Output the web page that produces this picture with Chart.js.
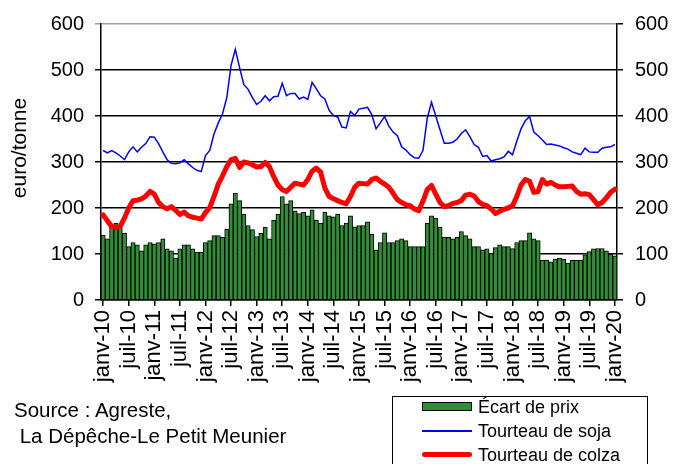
<!DOCTYPE html>
<html>
<head>
<meta charset="utf-8">
<script src="https://cdn.jsdelivr.net/npm/chart.js@4.4.1/dist/chart.umd.min.js"></script>
<style>
html, body { margin: 0; padding: 0; background: #fff; }
#wrap { position: relative; width: 673px; height: 464px; overflow: hidden; font-family: 'Liberation Sans', Arial, sans-serif; color: #000; }
#chart { position: absolute; left: 0; top: 0; }
.src { position: absolute; left: 14px; top: 397px; font-size: 20.5px; line-height: 26px; white-space: pre; }
.leg { position: absolute; left: 392px; top: 396px; width: 256px; height: 90px; border: 1.5px solid #000; box-sizing: border-box; background: #fff; }
.row { position: absolute; left: 0; width: 100%; height: 24px; }
.sw { position: absolute; left: 29px; width: 50px; box-sizing: border-box; }
.lbl { position: absolute; left: 85px; top: 0; font-size: 18px; line-height: 24px; white-space: nowrap; }
</style>
</head>
<body>
<div id="wrap">
  <canvas id="chart" width="673" height="464"></canvas>
  <div class="src">Source : Agreste,
 La Dépêche-Le Petit Meunier</div>
  <div class="leg">
    <div class="row" style="top:-2px">
      <div class="sw" style="top:7px;height:9px;background:#2f8f33;border:1.5px solid #000"></div>
      <div class="lbl">Écart de prix</div>
    </div>
    <div class="row" style="top:22px">
      <div class="sw" style="top:11px;height:2px;background:#0000ff"></div>
      <div class="lbl">Tourteau de soja</div>
    </div>
    <div class="row" style="top:46px">
      <div class="sw" style="top:9px;height:5px;background:#ff0000;border-radius:3px"></div>
      <div class="lbl">Tourteau de colza</div>
    </div>
  </div>
</div>
<script>
// valeurs mensuelles, janv-10 -> janv-20 (euro/tonne)
const soja = [
	325, 320, 325, 320, 313, 305, 322, 333, 322, 332, 340, 355,
	354, 340, 322, 305, 297, 296, 298, 305, 296, 288, 282, 279,
	314, 325, 361, 385, 405, 440, 510, 545, 505, 468, 458, 440,
	425, 432, 444, 433, 442, 443, 471, 444, 449, 449, 437, 441,
	436, 473, 459, 444, 437, 412, 401, 398, 376, 374, 410, 401,
	415, 417, 419, 403, 372, 385, 399, 378, 365, 357, 333, 326,
	316, 309, 308, 325, 395, 430, 400, 370, 341, 341, 343, 350,
	362, 370, 355, 338, 332, 312, 314, 302, 305, 307, 311, 323,
	316, 345, 372, 390, 399, 365, 357, 348, 338, 339, 337, 335,
	331, 328, 322, 319, 316, 330, 322, 321, 321, 330, 332, 333,
	338
];
const colza = [
	185, 172, 160, 158, 160, 178, 200, 216, 217, 220, 226, 236,
	230, 212, 203, 198, 203, 195, 186, 191, 183, 180, 178, 176,
	190, 201, 225, 252, 270, 290, 305, 308, 288, 300, 298, 294,
	289, 290, 299, 290, 268, 250, 240, 236, 245, 254, 252, 250,
	262, 280, 287, 278, 243, 225, 220, 216, 212, 209, 225, 245,
	254, 253, 252, 262, 265, 258, 252, 245, 232, 218, 212, 207,
	205, 198, 194, 215, 240, 249, 230, 212, 203, 205, 210, 212,
	216, 228, 230, 226, 214, 208, 205, 198, 188, 193, 197, 200,
	205, 225, 250, 262, 258, 234, 236, 262, 252, 256, 250, 246,
	246, 247, 248, 236, 230, 231, 229, 218, 207, 212, 222, 234,
	241
];
const ecart = [
	141, 133, 158, 167, 158, 145, 116, 125, 120, 107, 120, 125,
	122, 125, 133, 111, 107, 91, 111, 120, 120, 111, 104, 104,
	125, 129, 140, 140, 136, 154, 209, 232, 216, 187, 162, 153,
	138, 145, 158, 133, 174, 187, 225, 209, 216, 194, 188, 191,
	183, 196, 174, 167, 191, 183, 181, 187, 162, 167, 183, 159,
	162, 162, 170, 143, 109, 125, 146, 125, 125, 129, 133, 129,
	116, 116, 116, 116, 167, 183, 178, 158, 136, 136, 133, 136,
	149, 140, 133, 116, 116, 109, 111, 101, 114, 120, 116, 116,
	112, 125, 129, 129, 146, 133, 129, 87, 87, 83, 89, 91,
	89, 80, 87, 87, 87, 98, 105, 111, 112, 112, 107, 100,
	96
];
const tickLabels = ['janv-10', 'juil-10', 'janv-11', 'juil-11', 'janv-12', 'juil-12', 'janv-13', 'juil-13',
	'janv-14', 'juil-14', 'janv-15', 'juil-15', 'janv-16', 'juil-16', 'janv-17', 'juil-17',
	'janv-18', 'juil-18', 'janv-19', 'juil-19', 'janv-20'];
const moisNoms = ['janv', 'févr', 'mars', 'avr', 'mai', 'juin', 'juil', 'août', 'sept', 'oct', 'nov', 'déc'];

let mois = [];
for (let i = 0; i < soja.length; i++) {
	mois.push(moisNoms[i % 12] + '-' + (10 + Math.floor(i / 12)));
}

const police = "'Liberation Sans', Arial, sans-serif";

// titre de l'axe, place un peu au-dessus du centre comme dans Excel
const titreAxe = {
	id: 'titreAxe',
	afterDraw: function(chart) {
		let c = chart.ctx;
		c.save();
		c.translate(20, 148);
		c.rotate(-Math.PI / 2);
		c.font = '21px ' + police;
		c.fillStyle = '#000';
		c.textAlign = 'center';
		c.textBaseline = 'middle';
		c.fillText('euro/tonne', 0, 0);
		c.restore();
	}
};

let ctx = document.getElementById('chart').getContext('2d');

let chart = new Chart(ctx, {
	data: {
		labels: mois,
		datasets: [{
			type: 'line',
			label: 'Tourteau de colza',
			data: colza,
			borderColor: '#ff0000',
			borderWidth: 5,
			borderCapStyle: 'round',
			borderJoinStyle: 'round',
			pointRadius: 0,
			order: 1
		}, {
			type: 'line',
			label: 'Tourteau de soja',
			data: soja,
			borderColor: '#0000ff',
			borderWidth: 1.5,
			pointRadius: 0,
			order: 2
		}, {
			type: 'bar',
			label: 'Écart de prix',
			data: ecart,
			backgroundColor: '#2f8f33',
			borderColor: '#000000',
			borderWidth: 1,
			barPercentage: 1,
			categoryPercentage: 1,
			order: 3
		}]
	},
	options: {
		responsive: false,
		animation: false,
		devicePixelRatio: 1,
		layout: { padding: { top: 24, left: 0, right: 0, bottom: 0 } },
		plugins: { legend: { display: false }, tooltip: { enabled: false } },
		scales: {
			x: {
				offset: true,
				grid: { drawOnChartArea: false, offset: false, tickLength: 6, color: '#000', lineWidth: 1.5 },
				border: { display: true, color: '#000', width: 1.5 },
				ticks: {
					autoSkip: false,
					minRotation: 90,
					maxRotation: 90,
					padding: 4,
					color: '#000',
					font: { family: police, size: 22 },
					callback: function(v) {
						let l = this.getLabelForValue(v);
						return tickLabels.includes(l) ? l : null;
					}
				},
				afterFit: function(s) { s.height = 164; }
			},
			y: {
				position: 'left',
				min: 0,
				max: 600,
				ticks: { stepSize: 100, padding: 11, color: '#000', font: { family: police, size: 20 } },
				grid: {
					color: function(c) { return c.tick && c.tick.value === 600 ? '#a0a0a0' : '#000'; },
					lineWidth: 1.5,
					tickLength: 6
				},
				border: { display: true, color: '#000', width: 1.5 },
				afterFit: function(s) { s.width = 101; }
			},
			y1: {
				position: 'right',
				min: 0,
				max: 600,
				ticks: { stepSize: 100, padding: 12, color: '#000', font: { family: police, size: 20 } },
				grid: { drawOnChartArea: false, color: '#000', lineWidth: 1.5, tickLength: 6 },
				border: { display: true, color: '#000', width: 1.5 },
				afterFit: function(s) { s.width = 56; }
			}
		}
	},
	plugins: [titreAxe]
});
</script>
</body>
</html>
